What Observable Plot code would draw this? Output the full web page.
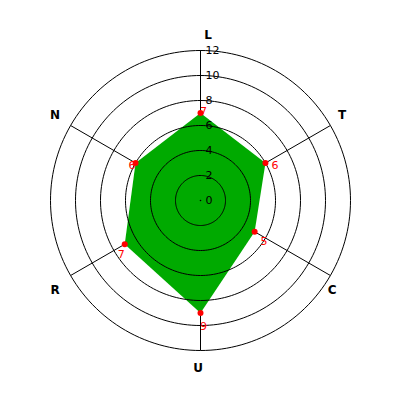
<!DOCTYPE html>
<html>
<head>
<meta charset="utf-8">
<script src="https://cdn.jsdelivr.net/npm/d3@7"></script>
<script src="https://cdn.jsdelivr.net/npm/@observablehq/plot@0.6"></script>
<style>
html,body{margin:0;padding:0;background:#fff;}
</style>
</head>
<body>
<div id="chart"></div>
<script>
const axes = ["L", "T", "C", "U", "R", "N"];
const values = [7, 6, 5, 9, 7, 6];
const ticks = [0, 2, 4, 6, 8, 10, 12];
const rings = [2, 4, 6, 8, 10, 12];
const maxValue = 12;

const n = axes.length;
const ang = i => (2 * Math.PI * i) / n; // clockwise from top
const px = (r, a) => r * Math.sin(a);
const py = (r, a) => r * Math.cos(a);

// layout: small per-axis nudges (in value units) for axis-name labels
const labelNudge = {L: [0.6, 0], T: [-0.1, 0.2], C: [-0.9, -0.6], U: [-0.2, -0.2], R: [-0.2, -0.6], N: [-0.2, 0.2]};

const ringPts = [];
rings.forEach(r => {
  for (let k = 0; k < 180; k++) {
    const a = (2 * Math.PI * k) / 180;
    ringPts.push({ring: r, x: px(r, a), y: py(r, a)});
  }
});

const spokes = axes.map((name, i) => ({
  name, x1: 0, y1: 0, x2: px(maxValue, ang(i)), y2: py(maxValue, ang(i)),
  lx: px(maxValue * 1.1, ang(i)) + labelNudge[name][0],
  ly: py(maxValue * 1.1, ang(i)) + labelNudge[name][1]
}));

const pts = axes.map((name, i) => ({
  name, v: values[i],
  x: px(values[i], ang(i)), y: py(values[i], ang(i)),
  tx: px(values[i] + 0.6, ang(i)), ty: py(values[i] + 0.6, ang(i))
}));

const tickData = ticks.map(t => ({t, x: 0, y: t}));

const chart = Plot.plot({
  width: 400,
  height: 400,
  margin: 0,
  x: {domain: [-16, 16], axis: null},
  y: {domain: [-16, 16], axis: null},
  style: {background: "#fff", fontFamily: "DejaVu Sans, sans-serif"},
  marks: [
    Plot.link(spokes, {x1: "x1", y1: "y1", x2: "x2", y2: "y2", stroke: "black", strokeWidth: 1}),
    Plot.line(pts, {x: "x", y: "y", curve: "linear-closed", fill: "#00aa00", stroke: "none"}),
    Plot.line(ringPts, {x: "x", y: "y", z: "ring", curve: "linear-closed", stroke: "black", strokeWidth: 1, fill: "none"}),
    Plot.dot([{x: 0, y: 0}], {x: "x", y: "y", r: 0.8, fill: "black", stroke: "none"}),
    Plot.text(tickData, {x: "x", y: "y", text: d => String(d.t), dx: 5, textAnchor: "start", fontSize: 11, fill: "black"}),
    Plot.dot(pts, {x: "x", y: "y", r: 3, fill: "red", stroke: "none"}),
    Plot.text(pts, {x: "tx", y: "ty", text: d => String(d.v), dx: 3, dy: 6, fontSize: 11, fill: "red"}),
    Plot.text(spokes, {x: "lx", y: "ly", text: "name", fontSize: 12, fontWeight: "bold", fill: "black"})
  ]
});
document.getElementById("chart").appendChild(chart);
</script>
</body>
</html>
